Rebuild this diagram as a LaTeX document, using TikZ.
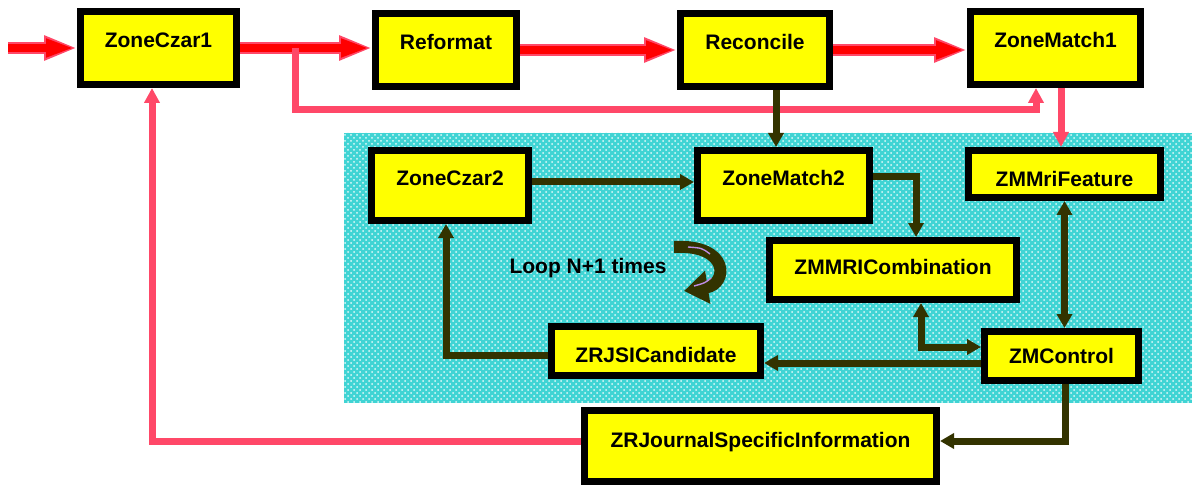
\documentclass[tikz,border=0pt]{standalone}
\usepackage{fontspec}
\setmainfont{Liberation Sans}
\usepackage{xcolor}
\usetikzlibrary{arrows.meta,patterns}
\definecolor{boxyellow}{RGB}{255,255,0}
\definecolor{flowpink}{RGB}{255,72,104}
\definecolor{darkolive}{RGB}{51,51,0}
\definecolor{bgcyan}{RGB}{64,212,212}
\definecolor{lilac}{RGB}{190,140,230}
\begin{document}
\begin{tikzpicture}[x=0.5pt,y=-0.5pt,
  blk/.style={draw=black, line width=3.5pt, fill=boxyellow, inner sep=0pt,
    font=\fontsize{10.5}{12}\selectfont\bfseries, text height=7.5pt, text depth=0pt},
  flow/.style={draw=red, line width=4pt, shorten >=1.5pt, -{Triangle[length=14pt,width=8.5pt]},
    preaction={draw=flowpink, line width=6pt, shorten >=0pt, -{Triangle[length=16.5pt,width=11.5pt]}}},
  fb/.style={draw=flowpink, line width=3.5pt, -{Triangle[length=7.5pt,width=7.5pt]}},
  dk/.style={draw=darkolive, line width=3.5pt, -{Triangle[length=7pt,width=7.5pt]}},
  dkboth/.style={dk, {Triangle[length=7pt,width=7.5pt]}-{Triangle[length=7pt,width=7.5pt]}}]
\useasboundingbox (0,0) rectangle (1192,486);
\fill[bgcyan, postaction={pattern=crosshatch dots, pattern color=white!85!bgcyan}] (344,133) rectangle (1192,403);

\node[blk, minimum width=78pt, minimum height=36.5pt, text depth=8pt] (zc1) at (158.5,48) {ZoneCzar1};
\node[blk, minimum width=70.5pt, minimum height=36.5pt, text depth=8pt] (ref) at (446,50) {Reformat};
\node[blk, minimum width=74.5pt, minimum height=36.5pt, text depth=8pt] (rec) at (755,50) {Reconcile};
\node[blk, minimum width=85pt, minimum height=36.5pt, text depth=8pt] (zm1) at (1055.5,48) {ZoneMatch1};
\node[blk, minimum width=78.5pt, minimum height=35pt, text depth=7.5pt] (zc2) at (450,185.5) {ZoneCzar2};
\node[blk, minimum width=86pt, minimum height=35pt, text depth=7.5pt] (zm2) at (783.5,185.5) {ZoneMatch2};
\node[blk, minimum width=96pt, minimum height=23.5pt, text height=12.5pt] (zmf) at (1064.5,174) {ZMMriFeature};
\node[blk, minimum width=123.5pt, minimum height=29.5pt, text depth=3pt] (zmc) at (893,270) {ZMMRICombination};
\node[blk, minimum width=77pt, minimum height=24.5pt] (zct) at (1061.5,356) {ZMControl};
\node[blk, minimum width=104.5pt, minimum height=24.5pt, text height=11.5pt] (zrj) at (656,351) {ZRJSICandidate};
\node[blk, minimum width=176pt, minimum height=35.5pt, text depth=6pt] (zjsi) at (760.5,446) {ZRJournalSpecificInformation};
\node[font=\fontsize{10.5}{12}\selectfont\bfseries] (loop) at (588,268) {Loop N+1 times};

\coordinate (in) at (8,48);
\coordinate (br) at (295,48);
\draw[flow] (in) -- (zc1);
\draw[flow] (zc1) -- (zc1 -| ref.west);
\draw[flow] (ref) -- (rec);
\draw[flow] (rec) -- (rec -| zm1.west);

\draw[fb] (br) -- ++(0,62) -| ([xshift=-9.75pt]zm1.south);
\draw[fb] ([xshift=2.75pt]zm1.south) -- ([xshift=-1.75pt]zmf.north);
\draw[fb] ([yshift=2.5pt]zjsi.west) -| ([xshift=-3.25pt]zc1.south);

\draw[dk] ([xshift=10.5pt]rec.south) -- ([xshift=-3.75pt]zm2.north);
\draw[dk] ([yshift=1.75pt]zc2.east) -- ([yshift=1.75pt]zm2.west);
\draw[dk] ([yshift=4.25pt]zm2.east) -| ([xshift=11.5pt]zmc.north);
\draw[dkboth] (zmf) -- (zmf |- zct.north);
\draw[dkboth] ([xshift=14pt]zmc.south) |- ([yshift=4.5pt]zct.west);
\draw[dk] ([yshift=-3.5pt]zct.west) -- ([yshift=-6pt]zrj.east);
\draw[dk] ([yshift=-2pt]zrj.west) -| ([xshift=-2pt]zc2.south);
\draw[dk] ([xshift=1.75pt]zct.south) |- ([yshift=2.5pt]zjsi.east);

\draw[darkolive, line width=6pt, -{Triangle[length=12pt,width=16pt]}] (674,247) .. controls (730,244) and (728,284) .. (684,291);
\draw[lilac, line width=0.7pt] (688,247) .. controls (702,248) .. (710,254);
\draw[lilac, line width=0.7pt] (694,286) .. controls (705,283) .. (711,278);
\end{tikzpicture}
\end{document}
